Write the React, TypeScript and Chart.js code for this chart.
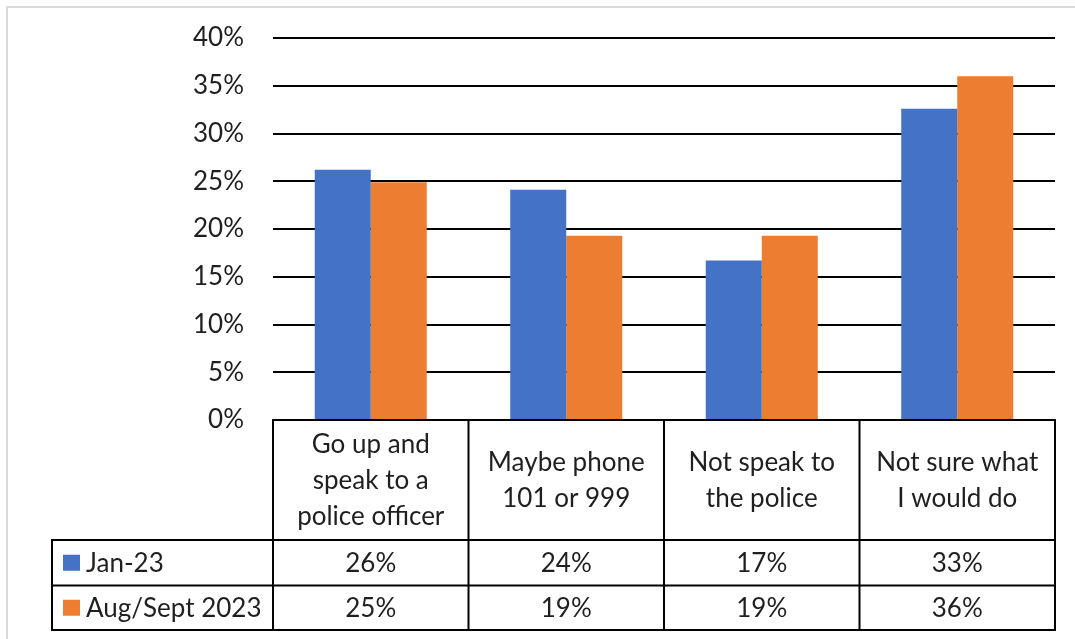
import React, { useEffect, useRef } from "react";
import { Chart, registerables } from "chart.js";

Chart.register(...registerables);

const categories: string[][] = [
  ["Go up and", "speak to a", "police officer"],
  ["Maybe phone", "101 or 999"],
  ["Not speak to", "the police"],
  ["Not sure what", "I would do"],
];
const seriesNames = ["Jan-23", "Aug/Sept 2023"];
const jan23 = [26.2, 24.1, 16.7, 32.6];
const augSept2023 = [24.9, 19.3, 19.3, 36.0];
const seriesColors = ["#4472C4", "#ED7D31"];
const yMin = 0;
const yMax = 40;
const yStep = 5;

const FONT = "Lato, 'Open Sans', sans-serif";
const TEXT = "#1f1f1f";

const framePlugin = {
  id: "frame",
  beforeDraw(chart: any) {
    const { ctx, width, height } = chart;
    ctx.save();
    ctx.fillStyle = "#ffffff";
    ctx.fillRect(0, 0, width, height);
    ctx.fillStyle = "#d9d9d9";
    ctx.fillRect(6, 6, width - 6, 2);
    ctx.fillRect(6, 6, 2, height - 6);
    ctx.restore();
  },
};

const tablePlugin = {
  id: "dataTable",
  afterDraw(chart: any) {
    const { ctx, chartArea } = chart;
    const xs = chart.scales.x;
    const n = categories.length;
    const colW = (chartArea.right - chartArea.left) / n;
    const tableLeft = 52;
    const headerTop = chartArea.bottom;
    const headerBottom = headerTop + 120;
    const rowH = [45.5, 44.5];
    const rowTops = [headerBottom, headerBottom + rowH[0]];
    const tableBottom = headerBottom + rowH[0] + rowH[1];

    ctx.save();
    ctx.strokeStyle = "#000000";
    ctx.lineWidth = 2;
    ctx.beginPath();
    ctx.moveTo(chartArea.left - 1, headerTop);
    ctx.lineTo(chartArea.right + 1, headerTop);
    [headerBottom, rowTops[1], tableBottom].forEach((y) => {
      ctx.moveTo(tableLeft - 1, y);
      ctx.lineTo(chartArea.right + 1, y);
    });
    ctx.moveTo(tableLeft, headerBottom);
    ctx.lineTo(tableLeft, tableBottom + 1);
    for (let i = 0; i <= n; i++) {
      const x = chartArea.left + i * colW;
      ctx.moveTo(x, headerTop);
      ctx.lineTo(x, tableBottom + 1);
    }
    ctx.stroke();

    ctx.fillStyle = TEXT;
    ctx.font = `26px ${FONT}`;
    ctx.textAlign = "center";
    ctx.textBaseline = "middle";
    const lineH = 36;
    const headerMid = (headerTop + headerBottom) / 2;
    categories.forEach((lines, i) => {
      const cx = xs ? xs.getPixelForValue(i) : chartArea.left + (i + 0.5) * colW;
      const startY = headerMid - ((lines.length - 1) * lineH) / 2;
      lines.forEach((ln, j) => ctx.fillText(ln, cx, startY + j * lineH + 1));
    });

    const series = [jan23, augSept2023];
    series.forEach((vals, r) => {
      const cy = rowTops[r] + rowH[r] / 2;
      ctx.fillStyle = seriesColors[r];
      ctx.fillRect(63, cy - 8, 17, 16);
      ctx.fillStyle = TEXT;
      ctx.textAlign = "left";
      ctx.fillText(seriesNames[r], 86, cy + 1);
      ctx.textAlign = "center";
      vals.forEach((v, i) => {
        const cx = xs ? xs.getPixelForValue(i) : chartArea.left + (i + 0.5) * colW;
        ctx.fillText(`${Math.round(v)}%`, cx, cy + 1);
      });
    });
    ctx.restore();
  },
};

export default function App() {
  const canvasRef = useRef<HTMLCanvasElement | null>(null);

  useEffect(() => {
    if (!canvasRef.current) return;
    const chart = new Chart(canvasRef.current, {
      type: "bar",
      data: {
        labels: categories.map((c) => c.join(" ")),
        datasets: [
          {
            label: seriesNames[0],
            data: jan23,
            backgroundColor: seriesColors[0],
            borderWidth: 0,
          },
          {
            label: seriesNames[1],
            data: augSept2023,
            backgroundColor: seriesColors[1],
            borderWidth: 0,
          },
        ],
      },
      options: {
        responsive: false,
        animation: false,
        devicePixelRatio: 1,
        layout: { padding: { left: 0, top: 38, right: 20, bottom: 219 } },
        plugins: {
          legend: { display: false },
          tooltip: { enabled: false },
          title: { display: false },
        },
        datasets: {
          bar: { categoryPercentage: 0.573, barPercentage: 1 },
        },
        scales: {
          x: { display: false },
          y: {
            min: yMin,
            max: yMax,
            border: { display: false },
            grid: {
              color: "#000000",
              lineWidth: 2,
              drawTicks: true,
              tickLength: 29,
              tickColor: "rgba(0,0,0,0)",
            },
            ticks: {
              stepSize: yStep,
              padding: 0,
              color: TEXT,
              font: { family: FONT, size: 26 },
              callback: (v: any) => `${v}%`,
            },
            afterFit: (scale: any) => {
              scale.width = 273;
            },
          },
        },
      },
      plugins: [framePlugin, tablePlugin],
    });
    return () => chart.destroy();
  }, []);

  return (
    <div style={{ position: "absolute", left: 0, top: 0, width: 1075, height: 639 }}>
      <canvas ref={canvasRef} width={1075} height={639} style={{ display: "block" }} />
    </div>
  );
}
